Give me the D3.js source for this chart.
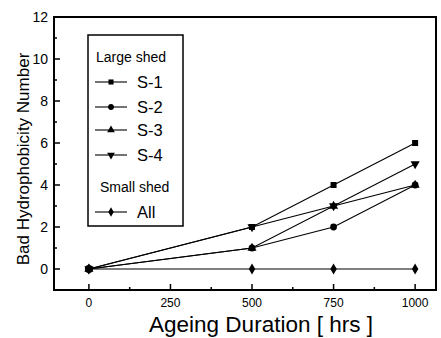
<!DOCTYPE html>
<html><head><meta charset="utf-8">
<script src="https://cdn.jsdelivr.net/npm/d3@7"></script>
<style>body{margin:0;background:#fff;} svg{display:block;font-family:"Liberation Sans",Arial,sans-serif;}</style>
</head><body>
<script>
const hours = [0, 500, 750, 1000];
const s1 = [0, 2, 4, 6];
const s2 = [0, 1, 2, 4];
const s3 = [0, 1, 3, 4];
const s4 = [0, 2, 3, 5];
const all = [0, 0, 0, 0];
const xTicks = [0, 250, 500, 750, 1000];
const yTicks = [0, 2, 4, 6, 8, 10, 12];
const seriesNames = ["S-1", "S-2", "S-3", "S-4", "All"];
const seriesSymbols = [d3.symbolSquare, d3.symbolCircle, d3.symbolTriangle, "down", d3.symbolDiamond];

const W = 441, H = 338;
const svg = d3.select("body").append("svg").attr("width", W).attr("height", H);
const L = 54, R = 436, T = 17, B = 290;
const x = d3.scaleLinear().domain([-107, 1064]).range([L, R]);
const y = d3.scaleLinear().domain([-1, 12]).range([B, T]);

// frame
svg.append("rect").attr("x", L).attr("y", T).attr("width", R - L).attr("height", B - T)
  .attr("fill", "none").attr("stroke", "#000").attr("stroke-width", 2);

// x ticks (inward)
const xMinor = [125, 375, 625, 875];
xTicks.forEach(v => svg.append("line").attr("x1", x(v)).attr("x2", x(v)).attr("y1", B).attr("y2", B - 6).attr("stroke", "#000").attr("stroke-width", 1.5));
xMinor.forEach(v => svg.append("line").attr("x1", x(v)).attr("x2", x(v)).attr("y1", B).attr("y2", B - 3).attr("stroke", "#000").attr("stroke-width", 1.5));
svg.selectAll(".xl").data(xTicks).enter().append("text")
  .attr("x", d => x(d)).attr("y", B + 17).attr("text-anchor", "middle")
  .attr("font-size", 12).text(d => d);

// y ticks (inward)
const yMinor = [-1, 1, 3, 5, 7, 9, 11];
yTicks.forEach(v => svg.append("line").attr("x1", L).attr("x2", L + 6).attr("y1", y(v)).attr("y2", y(v)).attr("stroke", "#000").attr("stroke-width", 1.5));
yMinor.forEach(v => svg.append("line").attr("x1", L).attr("x2", L + 3).attr("y1", y(v)).attr("y2", y(v)).attr("stroke", "#000").attr("stroke-width", 1.5));
svg.selectAll(".yl").data(yTicks).enter().append("text")
  .attr("x", L - 6).attr("y", d => y(d) + 5).attr("text-anchor", "end")
  .attr("font-size", 14).text(d => d);

// axis titles
svg.append("text").attr("x", 261).attr("y", 332).attr("text-anchor", "middle")
  .attr("font-size", 22.5).text("Ageing Duration [ hrs ]");
svg.append("text").attr("transform", "translate(29,159) rotate(-90)").attr("text-anchor", "middle")
  .attr("font-size", 17).text("Bad Hydrophobicity Number");

function sym(s, size) {
  if (s === "down") return d3.symbol().type(d3.symbolTriangle).size(size)();
  return d3.symbol().type(s).size(size)();
}
const data = [s1, s2, s3, s4, all];
const line = d3.line().x((d, i) => x(hours[i])).y(d => y(d));
data.forEach((vals, k) => {
  svg.append("path").datum(vals).attr("d", line).attr("fill", "none").attr("stroke", "#000").attr("stroke-width", 1.1);
});
data.forEach((vals, k) => {
  vals.forEach((v, i) => {
    const rot = seriesSymbols[k] === "down" ? " rotate(180)" : "";
    svg.append("path").attr("d", sym(seriesSymbols[k], 36))
      .attr("transform", `translate(${x(hours[i])},${y(v)})${rot}`).attr("fill", "#000");
  });
});
// big blob at origin
svg.append("circle").attr("cx", x(0)).attr("cy", y(0)).attr("r", 4).attr("fill", "#000");

// legend
const lg = svg.append("g");
lg.append("rect").attr("x", 88).attr("y", 35).attr("width", 95).attr("height", 191)
  .attr("fill", "#fff").attr("stroke", "#000").attr("stroke-width", 1.5);
lg.append("text").attr("x", 96).attr("y", 62).attr("font-size", 14).text("Large shed");
lg.append("text").attr("x", 100).attr("y", 192).attr("font-size", 14).text("Small shed");
const legY = [82, 107, 130, 155, 212];
seriesNames.forEach((n, k) => {
  const yy = legY[k];
  lg.append("line").attr("x1", 95).attr("x2", 127).attr("y1", yy).attr("y2", yy).attr("stroke", "#000").attr("stroke-width", 1.1);
  const rot = seriesSymbols[k] === "down" ? " rotate(180)" : "";
  lg.append("path").attr("d", sym(seriesSymbols[k], 26)).attr("transform", `translate(111,${yy})${rot}`).attr("fill", "#000");
  lg.append("text").attr("x", 137).attr("y", yy + 6).attr("font-size", 16.5).text(n);
});
</script>
</body></html>
